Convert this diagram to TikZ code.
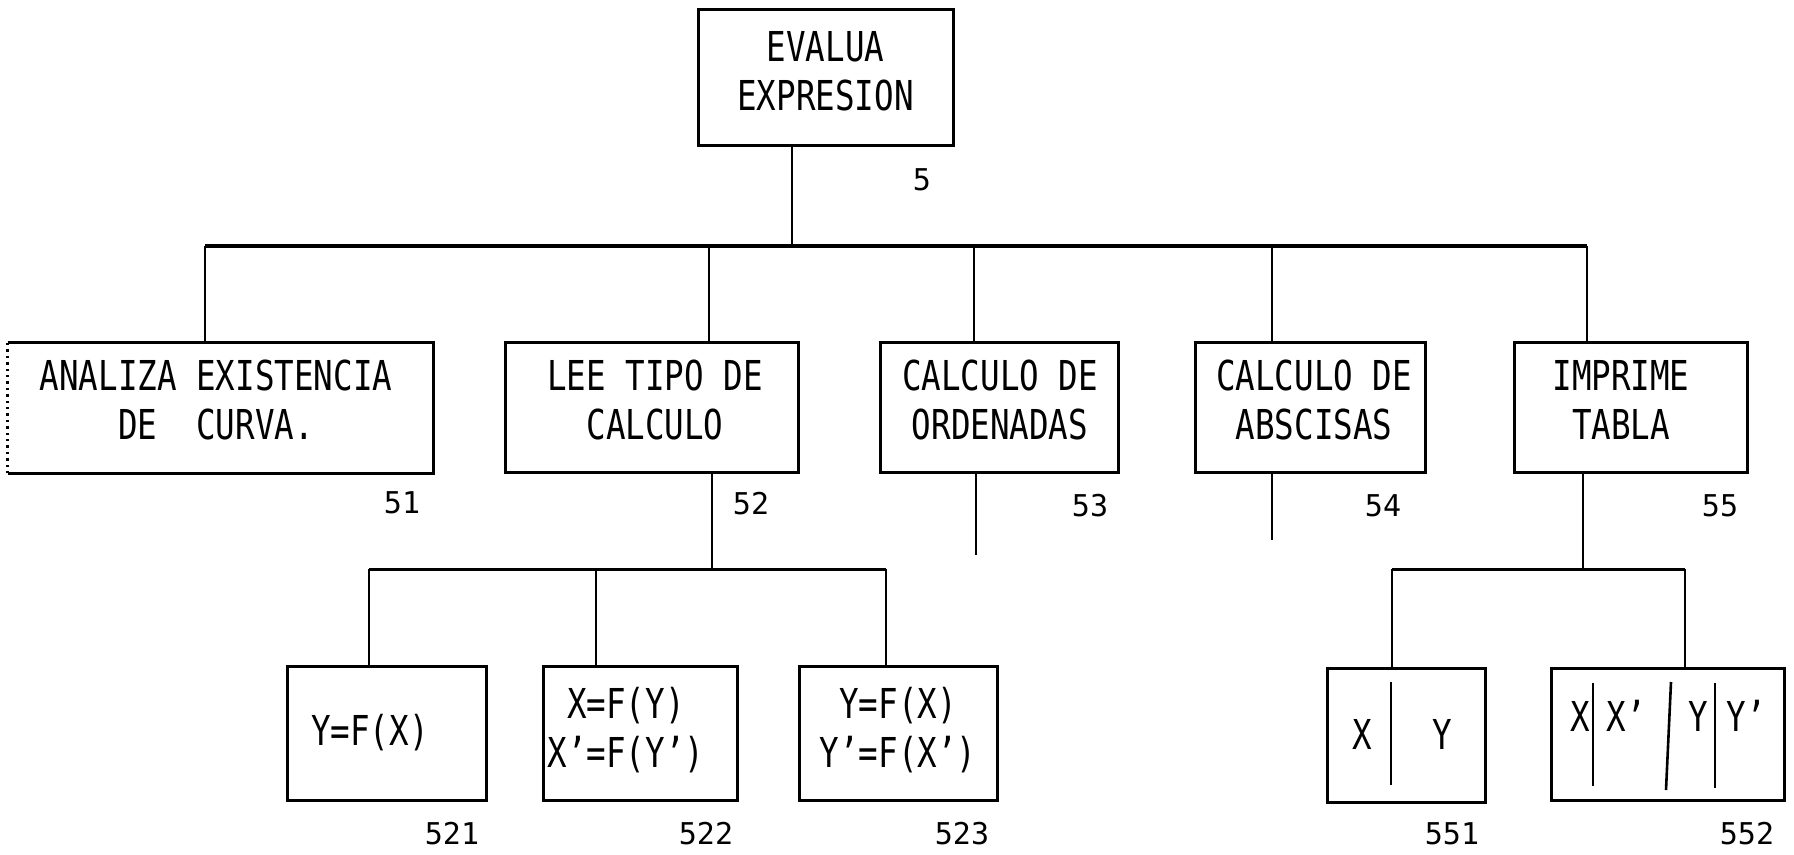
\documentclass[tikz,border=0pt]{standalone}
\usepackage{fontspec}
\newfontfamily\boxfont[FakeStretch=0.79]{DejaVu Sans Mono}
\newfontfamily\numfont{DejaVu Sans Mono}
\begin{document}
\begin{tikzpicture}[x=0.5pt,y=-0.5pt,
  box/.style={draw, line width=1.5pt, inner sep=0pt},
  btext/.style={inner sep=0pt, align=center, font={\boxfont\fontsize{20.6pt}{24.5pt}\selectfont}},
  conn/.style={line width=1.3pt},
  divline/.style={line width=1.3pt},
  lbl/.style={inner sep=0pt, font={\numfont\fontsize{15pt}{18pt}\selectfont}},
  cell/.style={inner sep=0pt, font={\boxfont\fontsize{20.6pt}{24pt}\selectfont}}]
\useasboundingbox (0,0) rectangle (1794,855);
\fill[white] (0,0) rectangle (1794,855);

% level 1
\node[box, minimum width=127.5pt, minimum height=68pt] (top) at (825.5,78) {};
\node[btext] (ttop) at (825.5,71) {EVALUA\\EXPRESION};
\node[lbl] (l5) at (922,180) {5};

% level 2
\node[inner sep=0pt, minimum width=212.5pt, minimum height=65pt] (b51) at (220.5,408) {};
\draw[line width=1.5pt] (b51.north west) -- (b51.north east) -- (b51.south east) -- (b51.south west);
\draw[line width=1.2pt, dotted] (b51.south west) -- (b51.north west);
\node[btext] (t51) at (216,400) {ANALIZA EXISTENCIA\\DE\ \ CURVA.};
\node[box, minimum width=146.5pt, minimum height=65pt] (b52) at (651.5,408) {};
\node[btext] (t52) at (655,400) {LEE TIPO DE\\CALCULO};
\node[box, minimum width=119pt, minimum height=65pt] (b53) at (999,408) {};
\node[btext] (t53) at (1000,400) {CALCULO DE\\ORDENADAS};
\node[box, minimum width=115pt, minimum height=65pt] (b54) at (1310,408) {};
\node[btext] (t54) at (1314,400) {CALCULO DE\\ABSCISAS};
\node[box, minimum width=116.5pt, minimum height=65pt] (b55) at (1630.5,408) {};
\node[btext] (t55) at (1621,400) {IMPRIME\\TABLA};

\node[lbl] (l51) at (402,503) {51};
\node[lbl] (l52) at (751,504) {52};
\node[lbl] (l53) at (1090,506) {53};
\node[lbl] (l54) at (1383,506) {54};
\node[lbl] (l55) at (1720,506) {55};

% level 3
\node[box, minimum width=99.5pt, minimum height=67pt] (b521) at (386.5,733) {};
\node[btext] (t521) at (370,733) {Y=F(X)};
\node[box, minimum width=97pt, minimum height=67pt] (b522) at (640.5,733) {};
\node[btext] (t522) at (626,730) {X=F(Y)\\X’=F(Y’)};
\node[box, minimum width=99pt, minimum height=67pt] (b523) at (898,733) {};
\node[btext] (t523) at (898,730) {Y=F(X)\\Y’=F(X’)};
\node[box, minimum width=79pt, minimum height=67pt] (b551) at (1406,735) {};
\node[box, minimum width=116.5pt, minimum height=66pt] (b552) at (1667.5,734) {};

\node[lbl] (l521) at (452,834) {521};
\node[lbl] (l522) at (706,834) {522};
\node[lbl] (l523) at (962,834) {523};
\node[lbl] (l551) at (1452,834) {551};
\node[lbl] (l552) at (1747,834) {552};

% table cells
\node[cell] (c1x) at (1362,734) {X};
\node[cell] (c1y) at (1442,734) {Y};
\draw[divline] (1391,682) -- (1391,785);
\node[cell] (c2x) at (1580,716) {X};
\node[cell] (c2xp) at (1626,716) {X’};
\node[cell] (c2y) at (1698,716) {Y};
\node[cell] (c2yp) at (1746,716) {Y’};
\draw[divline] (1593,683) -- (1593,786);
\draw[divline] (1671,682) -- (1666,790);
\draw[divline] (1715,683) -- (1715,788);

% connectors level 1 -> 2
\coordinate (j1) at (792,246);
\coordinate (busL) at (205,246);
\coordinate (busR) at (1587,246);
\coordinate (d52) at (709,246);
\coordinate (d53) at (974,246);
\coordinate (d54) at (1272,246);
\draw[conn] (top.south -| j1) -- (j1);
\draw[conn, line width=1.6pt] (busL) -- (busR);
\draw[conn] (busL) -- (busL |- b51.north);
\draw[conn] (d52) -- (d52 |- b52.north);
\draw[conn] (d53) -- (d53 |- b53.north);
\draw[conn] (d54) -- (d54 |- b54.north);
\draw[conn] (busR) -- (busR |- b55.north);

% connectors under 52
\coordinate (j52) at (712,569);
\coordinate (bus2L) at (369,569);
\coordinate (bus2R) at (886,569);
\coordinate (d522) at (596,569);
\draw[conn] (b52.south -| j52) -- (j52);
\draw[conn, line width=1.5pt] (bus2L) -- (bus2R);
\draw[conn] (bus2L) -- (bus2L |- b521.north);
\draw[conn] (d522) -- (d522 |- b522.north);
\draw[conn] (bus2R) -- (bus2R |- b523.north);

% stubs under 53 and 54
\coordinate (s53) at (976,555);
\coordinate (s54) at (1272,540);
\draw[conn] (b53.south -| s53) -- (s53);
\draw[conn] (b54.south -| s54) -- (s54);

% connectors under 55
\coordinate (j55) at (1583,569);
\coordinate (bus3L) at (1392,569);
\coordinate (bus3R) at (1685,569);
\draw[conn] (b55.south -| j55) -- (j55);
\draw[conn, line width=1.5pt] (bus3L) -- (bus3R);
\draw[conn] (bus3L) -- (bus3L |- b551.north);
\draw[conn] (bus3R) -- (bus3R |- b552.north);
\end{tikzpicture}
\end{document}
